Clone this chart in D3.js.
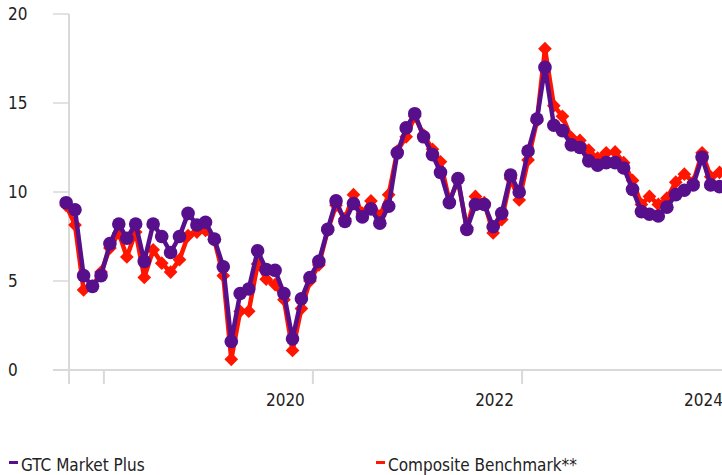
<!DOCTYPE html>
<html>
<head>
<meta charset="utf-8">
<script src="https://cdn.jsdelivr.net/npm/d3@7"></script>
<style>
	body { margin: 0; background: #fff; }
	svg text {
		font-family: "Liberation Sans Narrow", "DejaVu Sans Condensed", "Roboto Condensed", sans-serif;
		font-stretch: condensed;
		fill: #222;
	}
</style>
</head>
<body>
<svg id="chart" width="722" height="475"></svg>
<script>
// monthly values, Aug 2017 .. Nov 2023
var startMonth = [2017, 7];
var gtcValues = [
	9.4, 9.0, 5.3, 4.7, 5.3, 7.1, 8.2, 7.4, 8.2, 6.1,
	8.2, 7.5, 6.6, 7.5, 8.8, 8.15, 8.3, 7.35, 5.8, 1.6,
	4.3, 4.55, 6.7, 5.65, 5.6, 4.3, 1.75, 4.0, 5.2, 6.1,
	7.9, 9.5, 8.35, 9.35, 8.6, 9.05, 8.25, 9.2, 12.2, 13.6,
	14.4, 13.1, 12.1, 11.1, 9.4, 10.75, 7.9, 9.3, 9.3, 8.05,
	8.8, 10.95, 10.0, 12.3, 14.1, 17.0, 13.75, 13.45, 12.65, 12.5,
	11.75, 11.5, 11.65, 11.65, 11.35, 10.15, 8.9, 8.75, 8.65, 9.15,
	9.85, 10.1, 10.4, 11.95, 10.4, 10.3
];
var compositeValues = [
	9.25, 8.15, 4.5, 4.7, 5.5, 6.85, 7.7, 6.35, 7.75, 5.2,
	6.75, 6.0, 5.5, 6.2, 7.55, 7.75, 7.85, 7.3, 5.3, 0.6,
	3.3, 3.3, 5.95, 5.1, 4.8, 3.95, 1.1, 3.45, 5.0, 5.9,
	7.85, 9.25, 8.5, 9.85, 8.8, 9.5, 8.65, 9.85, 12.3, 13.1,
	14.25, 13.2, 12.4, 11.7, 9.5, 10.65, 8.0, 9.75, 9.4, 7.7,
	8.45, 10.75, 9.55, 11.8, 14.0, 18.05, 14.85, 14.25, 13.05, 12.9,
	12.35, 11.9, 12.2, 12.25, 11.65, 10.65, 9.3, 9.75, 9.3, 9.65,
	10.55, 11.0, 10.55, 12.2, 10.85, 11.1
];
var yTicks = [0, 5, 10, 15, 20];
var xTickYears = [2018, 2020, 2022, 2024];
var xTickLabels = ["", "2020", "2022", "2024"];
var seriesNames = ["GTC Market Plus", "Composite Benchmark**"];
var purple = "#570f8c", red = "#ff1500";

var svg = d3.select("#chart");

var dates = gtcValues.map(function(v, i){
	return new Date(startMonth[0], startMonth[1] + i, 22);
});

var x = d3.scaleTime()
	.domain([new Date(2017, 8, 1), new Date(2024, 0, 1)])
	.range([69, 731]);
var y = d3.scaleLinear().domain([0, 20]).range([370, 14]);

var axisColor = "#d9d9d9";

// y ticks (short marks left of the axis)
svg.selectAll(".ytick").data(yTicks.filter(function(d){ return d > 0; })).enter()
	.append("line")
	.attr("x1", 53).attr("x2", 69)
	.attr("y1", function(d){ return y(d); }).attr("y2", function(d){ return y(d); })
	.attr("stroke", axisColor).attr("stroke-width", 1.5);

svg.selectAll(".ylab").data(yTicks).enter()
	.append("text")
	.attr("x", 8)
	.attr("y", function(d){ return y(d); })
	.attr("dy", "0.36em")
	.style("font-size", "17px")
	.text(function(d){ return d; });

// x axis baseline + vertical axis
svg.append("line")
	.attr("x1", 53).attr("x2", 722)
	.attr("y1", y(0)).attr("y2", y(0))
	.attr("stroke", axisColor).attr("stroke-width", 2);
svg.append("line")
	.attr("x1", 69).attr("x2", 69)
	.attr("y1", y(20)).attr("y2", y(0) + 14)
	.attr("stroke", axisColor).attr("stroke-width", 2);

svg.selectAll(".xtick").data(xTickYears).enter()
	.append("line")
	.attr("x1", function(d){ return x(new Date(d, 0, 1)); })
	.attr("x2", function(d){ return x(new Date(d, 0, 1)); })
	.attr("y1", y(0)).attr("y2", y(0) + 14)
	.attr("stroke", axisColor).attr("stroke-width", 2);

svg.selectAll(".xlab").data(xTickYears).enter()
	.append("text")
	.attr("x", function(d){ return x(new Date(d, 0, 1)) - 8; })
	.attr("y", 406)
	.attr("text-anchor", "end")
	.style("font-size", "17px")
	.text(function(d, i){ return xTickLabels[i]; });

var line = d3.line()
	.x(function(d, i){ return x(dates[i]); })
	.y(function(d){ return y(d); });

// composite benchmark (behind)
svg.append("path")
	.datum(compositeValues)
	.attr("d", line)
	.attr("fill", "none")
	.attr("stroke", red)
	.attr("stroke-width", 4.5)
	.attr("stroke-linejoin", "round");
svg.selectAll(".diamond").data(compositeValues).enter()
	.append("path")
	.attr("d", d3.symbol().type(d3.symbolDiamond2).size(120))
	.attr("transform", function(d, i){ return "translate(" + x(dates[i]) + "," + y(d) + ")"; })
	.attr("fill", red);

// GTC Market Plus
svg.append("path")
	.datum(gtcValues)
	.attr("d", line)
	.attr("fill", "none")
	.attr("stroke", purple)
	.attr("stroke-width", 4.5)
	.attr("stroke-linejoin", "round");
svg.selectAll(".dot").data(gtcValues).enter()
	.append("circle")
	.attr("cx", function(d, i){ return x(dates[i]); })
	.attr("cy", function(d){ return y(d); })
	.attr("r", 6.8)
	.attr("fill", purple);

// legend
var legendX = [9, 376];
var legendColors = [purple, red];
seriesNames.forEach(function(name, i){
	svg.append("rect")
		.attr("x", legendX[i]).attr("y", 461)
		.attr("width", 9).attr("height", 3)
		.attr("fill", legendColors[i]);
	svg.append("text")
		.attr("x", legendX[i] + 12)
		.attr("y", 471)
		.style("font-size", "17px")
		.text(name);
});
</script>
</body>
</html>
